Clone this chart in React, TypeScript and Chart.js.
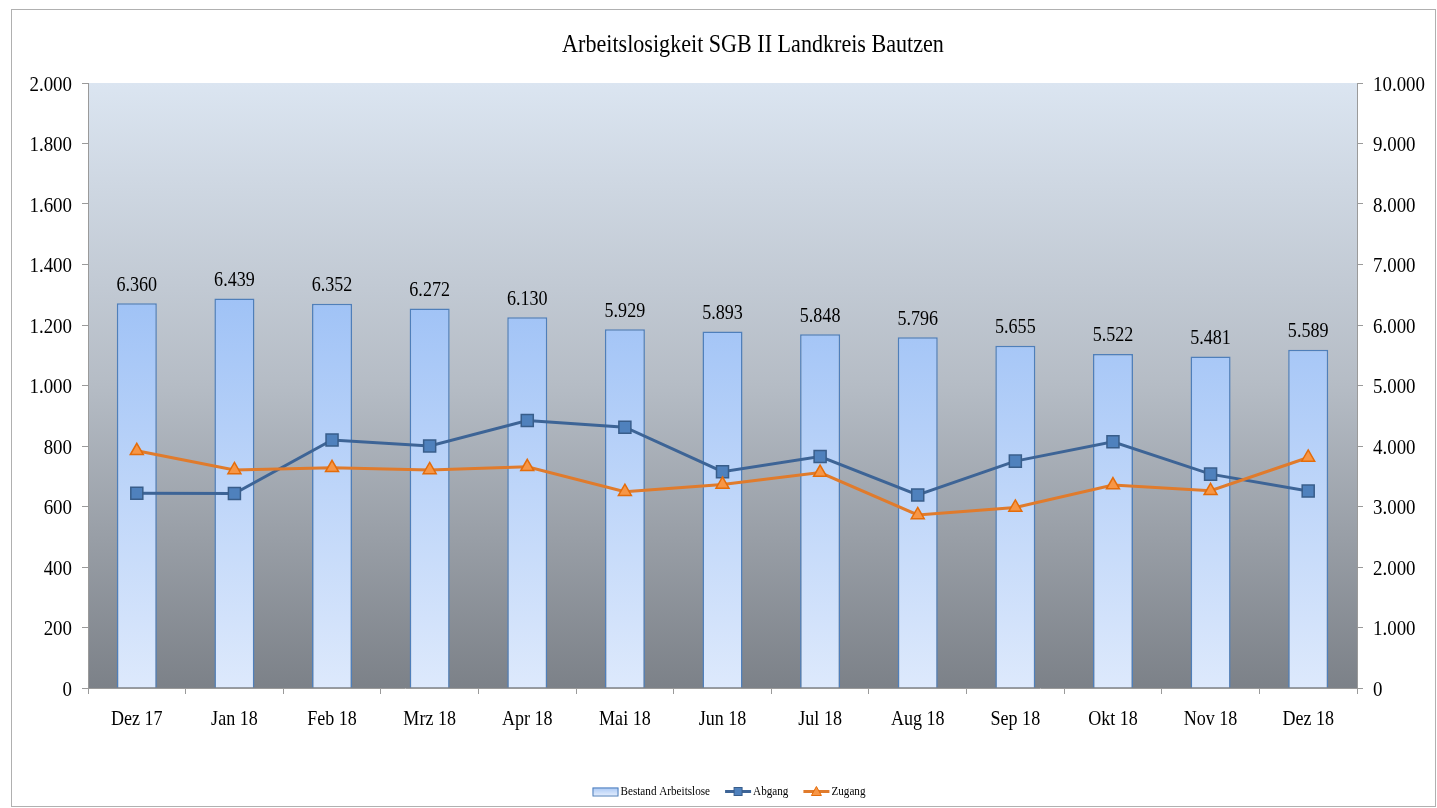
import React, { useEffect, useRef } from "react";
import { Chart, registerables } from "chart.js";

Chart.register(...registerables);

const categories = ["Dez 17", "Jan 18", "Feb 18", "Mrz 18", "Apr 18", "Mai 18", "Jun 18", "Jul 18", "Aug 18", "Sep 18", "Okt 18", "Nov 18", "Dez 18"];
const bestand = [6360, 6439, 6352, 6272, 6130, 5929, 5893, 5848, 5796, 5655, 5522, 5481, 5589];
const abgang = [644, 643, 820, 800, 884, 862, 715, 765, 638, 750, 814, 707, 651];
const zugang = [784, 721, 728, 721, 731, 649, 673, 712, 572, 597, 671, 652, 762];
const legendLabels = ["Bestand Arbeitslose", "Abgang", "Zugang"];

const TITLE = "Arbeitslosigkeit SGB II Landkreis Bautzen";
const SERIF = "'Liberation Serif', 'Times New Roman', serif";

const fmt = (v: number) => String(Math.round(v)).replace(/\B(?=(\d{3})+(?!\d))/g, ".");

const W = 1437;
const H = 808;

function drawText(ctx: any, text: string, x: number, y: number, size: number, sx: number, align: string, baseline: string) {
  ctx.save();
  ctx.translate(x, y);
  ctx.scale(sx, 1);
  ctx.font = `${size}px ${SERIF}`;
  ctx.fillStyle = "#000";
  ctx.textAlign = align;
  ctx.textBaseline = baseline;
  ctx.fillText(text, 0, 0);
  ctx.restore();
}

const decorPlugin = {
  id: "decor",
  beforeDraw(chart: any) {
    const { ctx, chartArea } = chart;
    ctx.save();
    ctx.fillStyle = "#ffffff";
    ctx.fillRect(0, 0, chart.width, chart.height);
    ctx.strokeStyle = "#b0b0b0";
    ctx.lineWidth = 1;
    ctx.strokeRect(11.5, 9.5, W - 13, H - 11);
    const g = ctx.createLinearGradient(0, chartArea.top, 0, chartArea.bottom);
    g.addColorStop(0, "#dbe5f1");
    g.addColorStop(0.5, "#b5bcc5");
    g.addColorStop(1, "#7c8188");
    ctx.fillStyle = g;
    ctx.fillRect(chartArea.left, chartArea.top, chartArea.right - chartArea.left, chartArea.bottom - chartArea.top);
    ctx.restore();
  },
  afterDatasetsDraw(chart: any) {
    const { ctx } = chart;
    const meta = chart.getDatasetMeta(0);
    meta.data.forEach((el: any, i: number) => {
      drawText(ctx, fmt(bestand[i]), el.x, el.y - 12.5, 21, 0.86, "center", "alphabetic");
    });
  },
  afterDraw(chart: any) {
    const { ctx } = chart;
    // title
    drawText(ctx, TITLE, 753, 52, 26, 0.85, "center", "alphabetic");
    // axis tick labels
    const xs = chart.scales.x;
    xs.ticks.forEach((t: any, i: number) => {
      drawText(ctx, categories[i], xs.getPixelForTick(i), 725, 22, 0.82, "center", "alphabetic");
    });
    const ys = chart.scales.y;
    ys.ticks.forEach((t: any, i: number) => {
      drawText(ctx, fmt(t.value), 72, ys.getPixelForTick(i) + 7.5, 21, 0.9, "right", "alphabetic");
    });
    const y1 = chart.scales.y1;
    y1.ticks.forEach((t: any, i: number) => {
      drawText(ctx, fmt(t.value), 1373, y1.getPixelForTick(i) + 7.5, 21, 0.9, "left", "alphabetic");
    });
    // legend
    ctx.save();
    const y = 791.5;
    const fs = 12;
    const lsx = 0.93;
    ctx.font = `${fs}px ${SERIF}`;
    const sym = 26;
    const gapSym = 2;
    const gapItem = 15;
    const widths = legendLabels.map((l) => ctx.measureText(l).width * lsx);
    const total = widths.reduce((a, b) => a + b, 0) + 3 * (sym + gapSym) + 2 * gapItem;
    let x = 729 - total / 2;
    const gb = ctx.createLinearGradient(0, y - 4, 0, y + 4);
    gb.addColorStop(0, "#a9c8f5");
    gb.addColorStop(1, "#e1ecfd");
    ctx.fillStyle = gb;
    ctx.fillRect(x, y - 4, sym, 8);
    ctx.strokeStyle = "#4f7fba";
    ctx.lineWidth = 1;
    ctx.strokeRect(x + 0.5, y - 3.5, sym - 1, 8);
    x += sym + gapSym;
    drawText(ctx, legendLabels[0], x, y, fs, lsx, "left", "middle");
    x += widths[0] + gapItem;
    ctx.strokeStyle = "#3d6496";
    ctx.lineWidth = 3;
    ctx.beginPath();
    ctx.moveTo(x, y);
    ctx.lineTo(x + sym, y);
    ctx.stroke();
    ctx.fillStyle = "#4f81bd";
    ctx.strokeStyle = "#385d8a";
    ctx.lineWidth = 1;
    ctx.fillRect(x + sym / 2 - 4, y - 4, 8, 8);
    ctx.strokeRect(x + sym / 2 - 4, y - 4, 8, 8);
    x += sym + gapSym;
    drawText(ctx, legendLabels[1], x, y, fs, lsx, "left", "middle");
    x += widths[1] + gapItem;
    ctx.strokeStyle = "#e07b2c";
    ctx.lineWidth = 3;
    ctx.beginPath();
    ctx.moveTo(x, y);
    ctx.lineTo(x + sym, y);
    ctx.stroke();
    ctx.fillStyle = "#f79646";
    ctx.strokeStyle = "#e46c0a";
    ctx.lineWidth = 1;
    ctx.beginPath();
    ctx.moveTo(x + sym / 2, y - 5);
    ctx.lineTo(x + sym / 2 + 5, y + 4);
    ctx.lineTo(x + sym / 2 - 5, y + 4);
    ctx.closePath();
    ctx.fill();
    ctx.stroke();
    x += sym + gapSym;
    drawText(ctx, legendLabels[2], x, y, fs, lsx, "left", "middle");
    ctx.restore();
  },
};

export default function App() {
  const ref = useRef<HTMLCanvasElement | null>(null);
  useEffect(() => {
    if (!ref.current) return;
    const barColor = (c: any) => {
      const area = c.chart.chartArea;
      if (!area) return "#b8d0f5";
      const g = c.chart.ctx.createLinearGradient(0, area.top + (area.bottom - area.top) * 0.35, 0, area.bottom);
      g.addColorStop(0, "#9fc2f6");
      g.addColorStop(1, "#dde9fc");
      return g;
    };
    const chart = new Chart(ref.current, {
      type: "bar",
      data: {
        labels: categories,
        datasets: [
          {
            type: "bar",
            label: legendLabels[0],
            data: bestand,
            yAxisID: "y1",
            backgroundColor: barColor,
            borderColor: "#4f7fba",
            borderWidth: 1.5,
            barPercentage: 0.41,
            categoryPercentage: 1,
            order: 3,
          } as any,
          {
            type: "line",
            label: legendLabels[1],
            data: abgang,
            yAxisID: "y",
            borderColor: "#3d6496",
            borderWidth: 3,
            pointStyle: "rect",
            pointRadius: 8.5,
            pointBackgroundColor: "#4f81bd",
            pointBorderColor: "#385d8a",
            pointBorderWidth: 1.5,
            tension: 0,
            order: 2,
          } as any,
          {
            type: "line",
            label: legendLabels[2],
            data: zugang,
            yAxisID: "y",
            borderColor: "#e07b2c",
            borderWidth: 3,
            pointStyle: "triangle",
            pointRadius: 7.5,
            pointBackgroundColor: "#f79646",
            pointBorderColor: "#e46c0a",
            pointBorderWidth: 1.5,
            tension: 0,
            order: 1,
          } as any,
        ],
      },
      options: {
        responsive: false,
        devicePixelRatio: 1,
        animation: false,
        layout: { padding: { top: 83, left: 0, right: 0, bottom: 0 } },
        plugins: {
          legend: { display: false },
          tooltip: { enabled: false },
          title: { display: false },
        },
        scales: {
          x: {
            offset: true,
            grid: { offset: true, drawOnChartArea: false, tickLength: 6, color: "#9a9a9a" },
            border: { display: true, color: "#9a9a9a" },
            ticks: { display: false },
            afterFit: (s: any) => {
              s.height = H - 688;
            },
          },
          y: {
            position: "left",
            min: 0,
            max: 2000,
            ticks: { stepSize: 200, display: false },
            grid: { drawOnChartArea: false, tickLength: 6, color: "#9a9a9a" },
            border: { display: true, color: "#9a9a9a" },
            afterFit: (s: any) => {
              s.width = 88;
            },
          },
          y1: {
            position: "right",
            min: 0,
            max: 10000,
            ticks: { stepSize: 1000, display: false },
            grid: { drawOnChartArea: false, tickLength: 6, color: "#9a9a9a" },
            border: { display: true, color: "#9a9a9a" },
            afterFit: (s: any) => {
              s.width = W - 1357;
            },
          },
        },
      },
      plugins: [decorPlugin],
    } as any);
    return () => chart.destroy();
  }, []);
  return (
    <div style={{ position: "absolute", left: 0, top: 0, width: W, height: H }}>
      <canvas ref={ref} width={W} height={H} style={{ width: W, height: H, display: "block" }} />
    </div>
  );
}
